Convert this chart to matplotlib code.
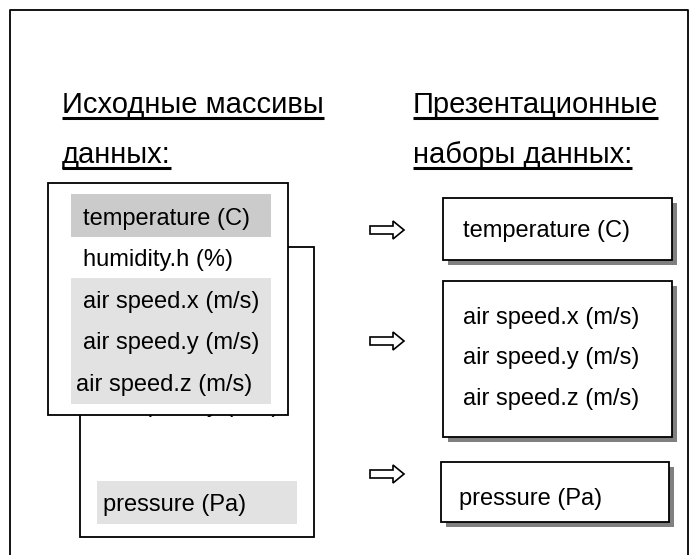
import matplotlib
matplotlib.use("Agg")
import matplotlib.pyplot as plt
from matplotlib.patches import Rectangle, Polygon

plt.rcParams['font.family'] = ['Liberation Sans', 'DejaVu Sans']

# texts of the diagram
left_title = ['Исходные массивы', 'данных:']
right_title = ['Презентационные', 'наборы данных:']
source_fields = ['temperature (C)', 'humidity.h (%)', 'air speed.x (m/s)',
                 'air speed.y (m/s)', 'air speed.z (m/s)']
hidden_field = 'air speed.y (m/s)'
back_field = 'pressure (Pa)'
groups = [['temperature (C)'],
          ['air speed.x (m/s)', 'air speed.y (m/s)', 'air speed.z (m/s)'],
          ['pressure (Pa)']]

W, H = 696, 555
fig = plt.figure(figsize=(W / 100, H / 100), dpi=100)
ax = fig.add_axes([0, 0, 1, 1])
ax.set_xlim(0, W)
ax.set_ylim(H, 0)
ax.axis('off')

BODY = 17
TITLE = 21

# outer frame (no bottom line)
ax.plot([10, 10, 688, 688], [H + 5, 10, 10, H + 5], color='black', lw=1.3, zorder=1)

# titles
title_texts = []
for col_x, lines in [(62, left_title), (413, right_title)]:
    for i, line in enumerate(lines):
        t = ax.text(col_x, 113 + 50 * i, line, fontsize=TITLE, va='baseline', ha='left', zorder=5)
        title_texts.append(t)

# back box
ax.add_patch(Rectangle((80, 247), 234, 290, facecolor='white', edgecolor='black', lw=1.3, zorder=2))
ax.add_patch(Rectangle((97, 481), 200, 43, facecolor='#e2e2e2', edgecolor='none', zorder=2.1))
ax.text(103, 511, back_field, fontsize=BODY, va='baseline', zorder=2.2)
ax.text(103, 412, hidden_field, fontsize=BODY, va='baseline', zorder=2.2)

# front box
ax.add_patch(Rectangle((48, 183), 240, 232, facecolor='white', edgecolor='black', lw=1.3, zorder=3))
ax.add_patch(Rectangle((71, 194), 200, 43, facecolor='#cbcbcb', edgecolor='none', zorder=3.1))
ax.add_patch(Rectangle((71, 278), 200, 126, facecolor='#e2e2e2', edgecolor='none', zorder=3.1))
src_x = [83, 83, 83, 83, 76]
src_base = [225, 266, 308, 349, 391]
for name, x, yb in zip(source_fields, src_x, src_base):
    ax.text(x, yb, name, fontsize=BODY, va='baseline', zorder=3.2)

# presentation boxes with shadow
boxes = [(443, 198, 229, 62), (443, 281, 229, 156), (441, 462, 228, 60)]
text_x = [463, 463, 459]
text_base = [[237], [324, 364, 405], [505]]
arrow_y = [230, 341, 474]
for (bx, by, bw, bh), tx, bases, ay, fields in zip(boxes, text_x, text_base, arrow_y, groups):
    ax.add_patch(Rectangle((bx + 5, by + 5), bw, bh, facecolor='#808080', edgecolor='none', zorder=2))
    ax.add_patch(Rectangle((bx, by), bw, bh, facecolor='white', edgecolor='black', lw=1.3, zorder=3))
    for f, yb in zip(fields, bases):
        ax.text(tx, yb, f, fontsize=BODY, va='baseline', zorder=3.2)
    x0, x1, xh = 370, 404, 393
    pts = [(x0, ay - 4), (xh, ay - 4), (xh, ay - 9), (x1, ay), (xh, ay + 9), (xh, ay + 4), (x0, ay + 4)]
    ax.add_patch(Polygon(pts, closed=True, facecolor='white', edgecolor='black', lw=1.2, zorder=3))

# underline titles
fig.canvas.draw()
r = fig.canvas.get_renderer()
inv = ax.transData.inverted()
for t in title_texts:
    bb = t.get_window_extent(renderer=r)
    (xa, _), (xb, _) = inv.transform([(bb.x0, bb.y0), (bb.x1, bb.y0)])
    yb = t.get_position()[1] + 5
    ax.plot([xa, xb], [yb, yb], color='black', lw=2.2, solid_capstyle='butt', zorder=5)

fig.savefig('out.png', dpi=100)
